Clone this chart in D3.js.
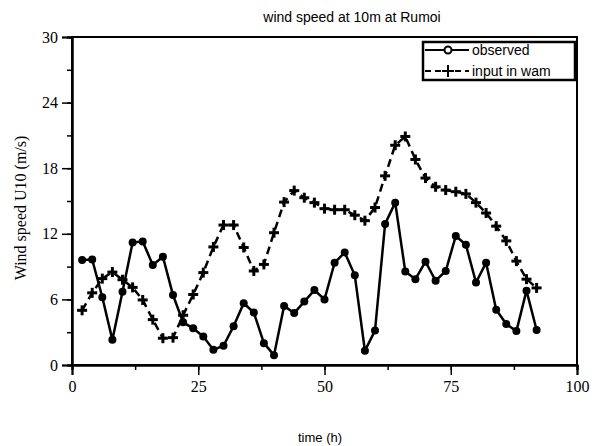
<!DOCTYPE html>
<html>
<head>
<meta charset="utf-8">
<script src="https://cdn.jsdelivr.net/npm/d3@7"></script>
<style>
  body { margin: 0; background: #fff; }
  .serif { font-family: "Liberation Serif", "DejaVu Serif", serif; }
  .sans { font-family: "Liberation Sans", Arial, sans-serif; }
</style>
</head>
<body>
<div class="chart"></div>
<script>
// hours (every 2 h)
var hours = [2,4,6,8,10,12,14,16,18,20,22,24,26,28,30,32,34,36,38,40,42,44,46,48,
  50,52,54,56,58,60,62,64,66,68,70,72,74,76,78,80,82,84,86,88,90,92];

var observed = [9.6,9.65,6.2,2.3,6.7,11.2,11.3,9.15,9.9,6.4,
  3.9,3.35,2.6,1.4,1.75,3.55,5.65,4.8,2.0,0.9,
  5.4,4.75,5.8,6.85,6.0,9.35,10.3,8.2,1.3,3.15,
  12.9,14.85,8.55,7.85,9.45,7.7,8.6,11.8,11.0,7.55,
  9.35,5.05,3.75,3.1,6.8,3.2];

var inputWam = [5.0,6.6,7.9,8.5,7.8,7.1,5.95,4.15,2.45,2.5,
  4.55,6.45,8.45,10.8,12.8,12.8,10.75,8.6,9.2,12.1,
  14.9,15.95,15.3,14.85,14.3,14.2,14.2,13.7,13.2,14.4,
  17.3,20.1,20.9,18.8,17.1,16.3,16.0,15.85,15.65,14.85,
  13.9,12.7,11.35,9.5,7.85,7.05];

var xTicks = [0, 25, 50, 75, 100];
var yTicks = [0, 6, 12, 18, 24, 30];

var svgWidth = 596, svgHeight = 446;
var margin = { top: 37, right: 19, bottom: 81, left: 72 };
var width = svgWidth - margin.left - margin.right;
var height = svgHeight - margin.top - margin.bottom;

var svg = d3.select(".chart")
  .append("svg")
  .attr("width", svgWidth)
  .attr("height", svgHeight);

var chartGroup = svg.append("g")
  .attr("transform", `translate(${margin.left}, ${margin.top})`);

var xScale = d3.scaleLinear().domain([0, 100]).range([0, width]);
var yScale = d3.scaleLinear().domain([0, 30]).range([height, 0]);

// minor ticks
var xMinor = d3.axisBottom(xScale).tickValues(d3.range(0, 101, 12.5))
  .tickSize(5).tickFormat("");
var yMinor = d3.axisLeft(yScale).tickValues(d3.range(0, 31, 3))
  .tickSize(5).tickFormat("");

chartGroup.append("g").attr("transform", `translate(0, ${height})`).call(xMinor);
chartGroup.append("g").call(yMinor);

// major ticks
var xAxis = d3.axisBottom(xScale).tickValues(xTicks).tickSize(10).tickPadding(6);
var yAxis = d3.axisLeft(yScale).tickValues(yTicks).tickSize(10).tickPadding(4);

var xg = chartGroup.append("g")
  .attr("transform", `translate(0, ${height})`)
  .call(xAxis);
var yg = chartGroup.append("g").call(yAxis);

[xg, yg].forEach(function(g) {
  g.selectAll("text").attr("class", "serif").style("font-size", "16px").attr("fill", "#000");
});
chartGroup.selectAll(".domain").attr("stroke", "#000").attr("stroke-width", 2);
chartGroup.selectAll(".tick line").attr("stroke", "#000").attr("stroke-width", 1.5);

// frame
chartGroup.append("rect")
  .attr("width", width)
  .attr("height", height)
  .attr("fill", "none")
  .attr("stroke", "#000")
  .attr("stroke-width", 2);

// lines
var obsData = hours.map((h, i) => ({ h: h, v: observed[i] }));
var wamData = hours.map((h, i) => ({ h: h, v: inputWam[i] }));

var line = d3.line()
  .x(d => xScale(d.h))
  .y(d => yScale(d.v));

chartGroup.append("path")
  .attr("d", line(wamData))
  .attr("fill", "none")
  .attr("stroke", "#000")
  .attr("stroke-width", 2.5)
  .attr("stroke-dasharray", "8,5");

// plus markers drawn as two strokes
var plus = chartGroup.selectAll(".plus")
  .data(wamData)
  .enter()
  .append("g")
  .attr("class", "plus")
  .attr("transform", d => `translate(${xScale(d.h)}, ${yScale(d.v)})`);
plus.append("line").attr("x1", -5).attr("x2", 5).attr("stroke", "#000").attr("stroke-width", 3);
plus.append("line").attr("y1", -5).attr("y2", 5).attr("stroke", "#000").attr("stroke-width", 3);

chartGroup.append("path")
  .attr("d", line(obsData))
  .attr("fill", "none")
  .attr("stroke", "#000")
  .attr("stroke-width", 2.5);

chartGroup.selectAll(".obs")
  .data(obsData)
  .enter()
  .append("circle")
  .attr("class", "obs")
  .attr("cx", d => xScale(d.h))
  .attr("cy", d => yScale(d.v))
  .attr("r", 4)
  .attr("fill", "#000");

// legend
var legend = chartGroup.append("g")
  .attr("transform", `translate(${width - 154}, 5)`);
legend.append("rect")
  .attr("width", 152)
  .attr("height", 38)
  .attr("fill", "#fff")
  .attr("stroke", "#000")
  .attr("stroke-width", 2.5);

legend.append("line")
  .attr("x1", 2).attr("x2", 46).attr("y1", 8).attr("y2", 8)
  .attr("stroke", "#000").attr("stroke-width", 2);
legend.append("circle")
  .attr("cx", 25).attr("cy", 8).attr("r", 3.5)
  .attr("fill", "#fff").attr("stroke", "#000").attr("stroke-width", 2);
legend.append("text")
  .attr("class", "sans")
  .attr("x", 49).attr("y", 13)
  .style("font-size", "14px")
  .text("observed");

legend.append("line")
  .attr("x1", 2).attr("x2", 46).attr("y1", 29).attr("y2", 29)
  .attr("stroke", "#000").attr("stroke-width", 2)
  .attr("stroke-dasharray", "6,4");
legend.append("line")
  .attr("x1", 19).attr("x2", 31).attr("y1", 29).attr("y2", 29)
  .attr("stroke", "#000").attr("stroke-width", 2);
legend.append("line")
  .attr("x1", 25).attr("x2", 25).attr("y1", 23).attr("y2", 35)
  .attr("stroke", "#000").attr("stroke-width", 2);
legend.append("text")
  .attr("class", "sans")
  .attr("x", 49).attr("y", 34)
  .style("font-size", "14px")
  .text("input in wam");

// title and labels
svg.append("text")
  .attr("class", "sans")
  .attr("x", 352)
  .attr("y", 22)
  .attr("text-anchor", "middle")
  .style("font-size", "14px")
  .text("wind speed at 10m at Rumoi");

svg.append("text")
  .attr("class", "sans")
  .attr("x", 320)
  .attr("y", 442)
  .attr("text-anchor", "middle")
  .style("font-size", "13px")
  .text("time (h)");

svg.append("text")
  .attr("class", "serif")
  .attr("transform", "translate(26, 208) rotate(-90)")
  .attr("text-anchor", "middle")
  .style("font-size", "16px")
  .text("Wind speed U10 (m/s)");
</script>
</body>
</html>
